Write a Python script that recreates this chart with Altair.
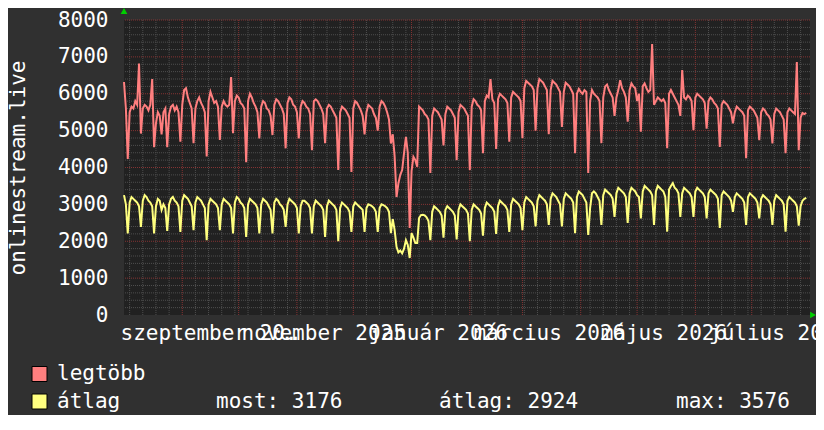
import altair as alt
import pandas as pd

# ---------------- data ----------------
start_date = "2025-08-01"
x_domain = ["2025-08-01", "2026-08-01"]

series_names = ["legtöbb", "átlag"]
series_colors = ["#ff7f7f", "#ffff7f"]

# daily maximum (legtöbb), Fri 2025-08-01 .. Thu 2026-07-30
legtobb = [
    6320, 5600, 4230,
    5500, 5650, 5600, 5800, 5700, 6820, 4920,
    5600, 5700, 5650, 5550, 5700, 6400, 4550,
    5200, 5500, 5400, 4900, 5500, 5600, 4550,
    5450, 5650, 5700, 5550, 5650, 5500, 4700,
    5700, 6100, 6150, 5900, 5750, 5600, 4660,
    5600, 5800, 5900, 5750, 5650, 5500, 4300,
    5800, 6050, 5900, 5750, 5800, 5650, 4750,
    5650, 5800, 5700, 5650, 5700, 6450, 4930,
    5800, 5950, 5900, 5750, 5700, 5600, 4140,
    5800, 6000, 5900, 5750, 5650, 5500, 4790,
    5650, 5800, 5750, 5600, 5550, 5400, 4880,
    5700, 5850, 5800, 5700, 5600, 5450, 4520,
    5750, 5900, 5850, 5700, 5650, 5500, 4790,
    5650, 5800, 5750, 5650, 5600, 5450, 4470,
    5800, 5850, 5800, 5700, 5600, 5450, 4660,
    5600, 5700, 5650, 5550, 5450, 5350, 3930,
    5500, 5650, 5600, 5550, 5450, 5350, 3880,
    5600, 5800, 5750, 5650, 5550, 5400, 4900,
    5500, 5700, 5650, 5600, 5450, 5350, 5000,
    5650, 5800, 5750, 5650, 5500, 5300, 4650,
    4900, 4300, 3200, 3570, 3800, 3930, 4390,
    4830, 4400, 2360, 3900, 4290, 4200, 4020,
    5650, 5600, 5550, 5450, 5400, 5300, 3850,
    5400, 5600, 5550, 5500, 5400, 5300, 4600,
    5450, 5650, 5600, 5550, 5450, 5350, 4200,
    5500, 5700, 5650, 5600, 5500, 5400, 3930,
    5650, 5850, 5800, 5700, 5650, 5550, 4390,
    5800, 5950, 5900, 6400, 5850, 5750, 4500,
    5850, 6000, 5950, 5900, 5850, 5750, 4700,
    5900, 6050, 6000, 5950, 5900, 5800, 4800,
    6150, 6350, 6300, 6250, 6200, 6100, 5000,
    6150, 6400, 6350, 6300, 6200, 6100, 4900,
    6100, 6350, 6300, 6250, 6150, 6050, 5100,
    6050, 6300, 6250, 6200, 6100, 6000, 4390,
    6000, 6130, 6050, 6000, 6100, 6050, 3850,
    5800, 6100, 6000, 5950, 5900, 5800, 4660,
    5900, 6200, 6250, 6100, 6000, 5900, 5400,
    5900, 6100, 6370, 6150, 6050, 5900, 5240,
    6100, 6280, 6200, 6150, 5800, 6000, 4970,
    6200, 6280, 6150, 6050, 6100, 7350, 5700,
    5800, 5900, 5850, 5800, 5850, 5750, 4520,
    6000, 6100, 6000, 5900, 5800, 5700, 5400,
    6640, 5900, 5850, 5950, 5900, 5800, 5010,
    5900, 6000, 5950, 5900, 5850, 5750, 5050,
    5800, 5900, 5850, 5750, 5700, 5600, 4560,
    5700, 5800, 5750, 5700, 5600, 5500, 5200,
    5500, 5650, 5600, 5550, 5500, 5400, 4250,
    5550, 5650, 5600, 5550, 5450, 5350, 4740,
    5500, 5600, 5550, 5450, 5400, 5300, 4650,
    5450, 5600, 5550, 5500, 5400, 5300, 4390,
    5500, 5600, 5550, 5500, 5450, 6860, 4470,
    5350, 5480, 5450, 5480,
]

# daily average (átlag)
atlag = [
    3250, 3000, 2210,
    3050, 3200, 3150, 3100, 3050, 2950, 2390,
    3100, 3250, 3200, 3100, 3050, 2950, 2210,
    2950, 3150, 3100, 2850, 3000, 2900, 2280,
    3000, 3150, 3200, 3100, 3050, 2950, 2250,
    3100, 3250, 3200, 3150, 3050, 2950, 2300,
    3050, 3200, 3150, 3100, 3000, 2900, 2030,
    3000, 3150, 3100, 3050, 3000, 2900, 2300,
    3000, 3150, 3100, 3050, 3000, 2900, 2210,
    3050, 3200, 3150, 3050, 3000, 2900, 2120,
    3000, 3150, 3100, 3050, 3000, 2900, 2210,
    3000, 3150, 3100, 3050, 2950, 2850, 2210,
    3050, 3150, 3100, 3000, 2950, 2850, 2390,
    3000, 3150, 3100, 3050, 3000, 2900, 2210,
    2950, 3100, 3100, 3050, 3000, 2900, 2210,
    2950, 3100, 3050, 3000, 2950, 2850, 2120,
    2950, 3100, 3050, 3000, 2950, 2850, 2000,
    2900, 3050, 3000, 2950, 2900, 2800, 2250,
    2950, 3050, 3000, 2950, 2900, 2850, 2250,
    2900, 3000, 2980, 2950, 2900, 2800, 2250,
    2900, 3000, 2980, 2950, 2900, 2800, 2220,
    2600, 2300, 1850, 1700, 1750, 1670, 1800,
    2030, 1900, 1545, 2220, 2100, 1950, 1950,
    2630, 2710, 2720, 2700, 2650, 2550, 2030,
    2800, 2950, 2900, 2850, 2800, 2700, 2100,
    2850, 2950, 2900, 2850, 2800, 2700, 2050,
    2850, 3000, 2950, 2900, 2850, 2750, 2000,
    2850, 3000, 2950, 2900, 2850, 2750, 2150,
    2900, 3050, 3000, 2950, 2900, 2800, 2200,
    2950, 3100, 3050, 3000, 2950, 2850, 2250,
    3000, 3150, 3100, 3050, 3000, 2900, 2300,
    3050, 3200, 3150, 3100, 3050, 2950, 2400,
    3100, 3250, 3200, 3150, 3100, 3000, 2440,
    3150, 3300, 3250, 3200, 3100, 3000, 2400,
    3150, 3300, 3250, 3200, 3150, 3050, 2220,
    3200, 3350, 3300, 3250, 3150, 3050, 2170,
    2900, 3300, 3350, 3300, 3200, 3100, 2440,
    3250, 3400, 3350, 3300, 3250, 3150, 2660,
    3300, 3450, 3400, 3350, 3300, 3200, 2500,
    3300, 3450, 3400, 3350, 3250, 3200, 2620,
    3350, 3500, 3450, 3400, 3350, 3250, 2440,
    3350, 3500, 3450, 3400, 3350, 3200, 2260,
    3400, 3500, 3576, 3450, 3400, 3300, 2660,
    3300, 3450, 3400, 3350, 3300, 3200, 2660,
    3350, 3450, 3400, 3350, 3300, 3200, 2620,
    3300, 3400, 3350, 3300, 3250, 3150, 2360,
    3250, 3350, 3300, 3250, 3200, 3100, 2800,
    3200, 3300, 3250, 3200, 3150, 3050, 2440,
    3200, 3300, 3250, 3200, 3150, 3050, 2620,
    3150, 3250, 3200, 3150, 3100, 3000, 2440,
    3100, 3250, 3200, 3150, 3100, 3000, 2260,
    3100, 3200, 3150, 3100, 3050, 2950, 2420,
    2950, 3100, 3150, 3176,
]

month_starts = ["2025-09-01", "2025-10-01", "2025-11-01", "2025-12-01",
                "2026-01-01", "2026-02-01", "2026-03-01", "2026-04-01",
                "2026-05-01", "2026-06-01", "2026-07-01"]
label_dates = ["2025-09-15", "2025-11-15", "2026-01-15", "2026-03-15",
               "2026-05-15", "2026-07-15"]
label_texts = ["szeptember 2025", "november 2025", "január 2026",
               "március 2026", "május 2026", "július 2026"]
y_ticks = [0, 1000, 2000, 3000, 4000, 5000, 6000, 7000, 8000]
y_minor = [v for v in range(0, 8001, 200) if v % 1000 != 0]
y_title = "onlinestream.live"
stats_texts = ["most: 3176", "átlag: 2924", "max: 3576"]

# ---------------- helpers ----------------
FONT = "DejaVu Sans Mono"
FS = 21
TXT = "#ffffff"
MINOR = "#4e4e4e"
MAJOR = "#853333"


def ms(d):
    return int(pd.Timestamp(d, tz="UTC").value // 10**6)


dates = pd.date_range(start_date, periods=len(legtobb), freq="D")
rows = []
for name, vals in zip(series_names, [legtobb, atlag]):
    for d, v in zip(dates, vals):
        rows.append({"date": d.strftime("%Y-%m-%d"), "value": v, "series": name})
df = pd.DataFrame(rows)

week_starts = [d.strftime("%Y-%m-%d") for d in pd.date_range("2025-08-04", "2026-07-27", freq="7D")
               if d.strftime("%Y-%m-%d") not in month_starts]

label_expr = " : ".join(
    f"abs(time(datum.value) - {ms(d)}) < 3600000 ? '{t}'" for d, t in zip(label_dates, label_texts)
) + " : ''"

x_scale = alt.Scale(type="utc", domain=[ms(x_domain[0]), ms(x_domain[1])])
y_scale = alt.Scale(domain=[0, 8000], nice=False, zero=False)

x_enc = alt.X(
    "date:T", scale=x_scale,
    axis=alt.Axis(values=[ms(d) for d in label_dates], labelExpr=label_expr,
                  grid=False, ticks=False, tickSize=0, domain=False, title=None,
                  labelFont=FONT, labelFontSize=FS, labelColor=TXT,
                  labelBaseline="alphabetic", labelPadding=24, labelAlign="center",
                  labelOverlap=False, labelFlush=False, labelBound=False),
)
y_enc = alt.Y(
    "value:Q", scale=y_scale,
    axis=alt.Axis(values=y_ticks, format="d", grid=False, ticks=False, tickSize=0,
                  domain=False, labelFont=FONT, labelFontSize=FS, labelColor=TXT,
                  labelPadding=16, labelBaseline="middle",
                  title=y_title, titleFont=FONT, titleFontSize=FS, titleFontWeight="normal",
                  titleColor=TXT, titleAngle=-90, titleX=-106, titleY=147.5,
                  titleAlign="center", titleBaseline="middle"),
)
color_scale = alt.Scale(domain=series_names, range=series_colors)

# ---------------- grid ----------------
grid_minor_x = alt.Chart(pd.DataFrame({"date": week_starts})).mark_rule(
    color=MINOR, strokeWidth=1, strokeDash=[1, 1]).encode(x=x_enc)
grid_minor_y = alt.Chart(pd.DataFrame({"value": y_minor})).mark_rule(
    color=MINOR, strokeWidth=1, strokeDash=[1, 1]).encode(y=y_enc)
grid_major_x = alt.Chart(pd.DataFrame({"date": month_starts})).mark_rule(
    color=MAJOR, strokeWidth=1, strokeDash=[1, 1]).encode(x=x_enc)
grid_major_y = alt.Chart(pd.DataFrame({"value": y_ticks[1:]})).mark_rule(
    color=MAJOR, strokeWidth=1, strokeDash=[1, 1]).encode(y=y_enc)

# ---------------- lines ----------------
lines = alt.Chart(df).mark_line(strokeWidth=2).encode(
    x=x_enc, y=y_enc,
    color=alt.Color("series:N", scale=color_scale, legend=None),
    detail="series:N",
)

# ---------------- legend (drawn below the plot) ----------------
legend_parts = []
for i, (name, col) in enumerate(zip(series_names, series_colors)):
    legend_parts.append(
        alt.Chart().mark_square(size=225, filled=True, color=col, stroke="#000000",
                                strokeWidth=1, opacity=1)
        .encode(x=alt.value(-84.5), y=alt.value(354 + 27.5 * i))
    )
    legend_parts.append(
        alt.Chart().mark_text(text=name, font=FONT, fontSize=FS, color=TXT, align="left",
                              baseline="middle")
        .encode(x=alt.value(-67), y=alt.value(354 + 27.5 * i))
    )

stat_x = [92, 315, 552]
stats = [
    alt.Chart().mark_text(text=t, font=FONT, fontSize=FS, color=TXT, align="left",
                          baseline="middle").encode(x=alt.value(sx), y=alt.value(381.5))
    for t, sx in zip(stats_texts, stat_x)
]

arrow_up = alt.Chart().mark_point(shape="triangle-up", filled=True, color="#00d000",
                                  size=45, opacity=1).encode(x=alt.value(0), y=alt.value(-9))
arrow_right = alt.Chart().mark_point(shape="triangle-right", filled=True, color="#00d000",
                                     size=45, opacity=1).encode(x=alt.value(689), y=alt.value(295))

chart = alt.layer(
    grid_minor_x, grid_minor_y, grid_major_x, grid_major_y, lines,
    *legend_parts, *stats, arrow_up, arrow_right,
).properties(
    width=686, height=295,
    autosize=alt.AutoSizeParams(type="none"),
    padding={"left": 116, "top": 12, "right": 6, "bottom": 100},
    background="#303030",
).configure_view(fill="#212121", stroke=None)

chart.save("out.html", embed_options={"renderer": "svg", "actions": False})
